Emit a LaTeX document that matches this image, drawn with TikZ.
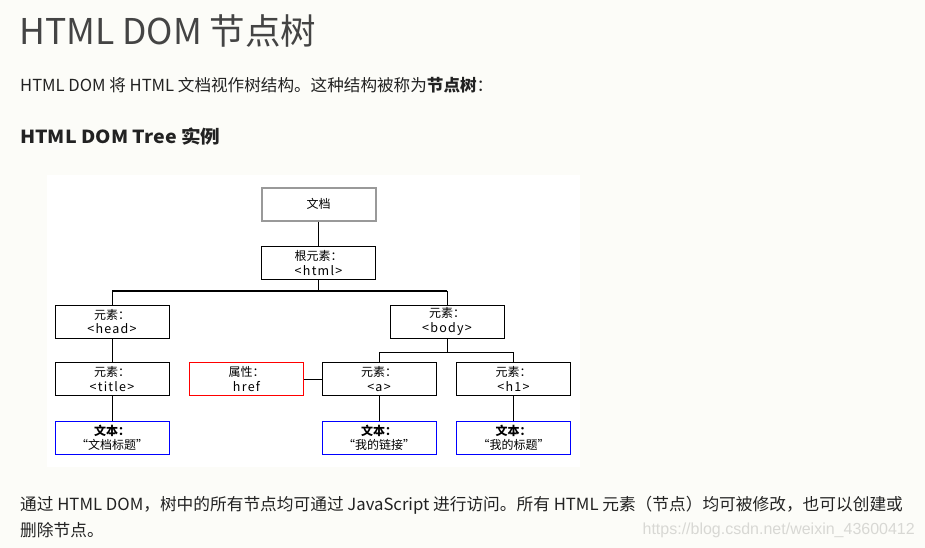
\documentclass[tikz,border=0pt]{standalone}
\usepackage{fontspec}
\newfontfamily\cjk{Noto Sans CJK SC}
\newfontfamily\cjkwide[LetterSpace=10]{Noto Sans CJK SC}
\newfontfamily\wmfont{Liberation Sans}
\definecolor{pagebg}{HTML}{FCFCF8}
\definecolor{titlegray}{HTML}{444444}
\definecolor{bodytext}{HTML}{222222}
\definecolor{docgray}{HTML}{999999}
\definecolor{wmgray}{HTML}{D8D8D4}
\newcommand{\wl}[1]{{\cjkwide\fontsize{12.5}{14}\selectfont #1}}
\tikzset{
  box/.style={draw=black, line width=1pt, fill=white, minimum width=114pt, minimum height=33pt, inner sep=0pt, align=center, font=\cjk\fontsize{12}{14.5}\selectfont},
  redbox/.style={box, draw=red},
  bluebox/.style={box, draw=blue},
  docbox/.style={box, draw=docgray, line width=2pt},
  rootbox/.style={box, line width=1.4pt},
  conn/.style={line width=1pt, black},
  bus/.style={line width=2pt, black},
  ptext/.style={anchor=west, inner sep=0pt, text=bodytext},
}
\begin{document}
\begin{tikzpicture}[x=1pt,y=-1pt]
\fill[pagebg] (0,0) rectangle (925,548);
\useasboundingbox (0,0) rectangle (925,548);
\fill[white] (47,175) rectangle (580,467);

\node[ptext, text=titlegray, font=\cjk\fontsize{35.5}{40}\selectfont] (h) at (19,31) {HTML DOM 节点树};
\node[ptext, font=\cjk\fontsize{16.6}{19}\selectfont] (p1) at (20,85) {HTML DOM 将 HTML 文档视作树结构。这种结构被称为\textbf{节点树}：};
\node[ptext, font=\cjk\fontsize{18}{20}\selectfont\bfseries] (h2) at (20,137) {\scalebox{1.09}[1]{HTML DOM Tree 实例}};

\node[docbox] (doc) at (318.5,204) {文档};
\node[rootbox] (root) at (318.5,263) {根元素：\\\wl{<html>}};
\node[box] (head) at (112,321.5) {元素：\\\wl{<head>}};
\node[box] (body) at (447,321.5) {元素：\\\wl{<body>}};
\node[box] (title) at (112,379) {元素：\\\wl{<title>}};
\node[redbox] (href) at (246.5,379) {属性：\\\wl{href}};
\node[box] (a) at (379,379) {元素：\\\wl{<a>}};
\node[box] (h1) at (513.5,379) {元素：\\\wl{<h1>}};
\node[bluebox] (t1) at (112,438) {\textbf{文本：}\\“文档标题”};
\node[bluebox] (t2) at (379,438) {\textbf{文本：}\\“我的链接”};
\node[bluebox] (t3) at (513.5,438) {\textbf{文本：}\\“我的标题”};

\coordinate (busy) at (0,291);
\coordinate (suby) at (0,352);
\draw[conn] (doc) -- (root);
\draw[conn] (root.south) -- (root.south |- busy);
\draw[bus] (head.north |- busy) -- (body.north |- busy);
\draw[conn] (head.north |- busy) -- (head.north);
\draw[conn] (body.north |- busy) -- (body.north);
\draw[conn] (head) -- (title);
\draw[conn] (title) -- (t1);
\draw[conn] (body.south) -- (body.south |- suby);
\draw[conn] (a.north) |- (h1.north |- suby) -- (h1.north);
\draw[conn] (href) -- (a);
\draw[conn] (a) -- (t2);
\draw[conn] (h1) -- (t3);

\node[ptext, font=\cjk\fontsize{16.7}{19}\selectfont] (b1) at (20,505) {通过 HTML DOM，树中的所有节点均可通过 JavaScript 进行访问。所有 HTML 元素（节点）均可被修改，也可以创建或};
\node[ptext, font=\cjk\fontsize{16.7}{19}\selectfont] (b2) at (20,530) {删除节点。};
\node[anchor=east, inner sep=0pt, text=wmgray, font=\wmfont\fontsize{16}{18}\selectfont] (wm) at (915,530) {https://blog.csdn.net/weixin\_43600412};
\end{tikzpicture}
\end{document}
